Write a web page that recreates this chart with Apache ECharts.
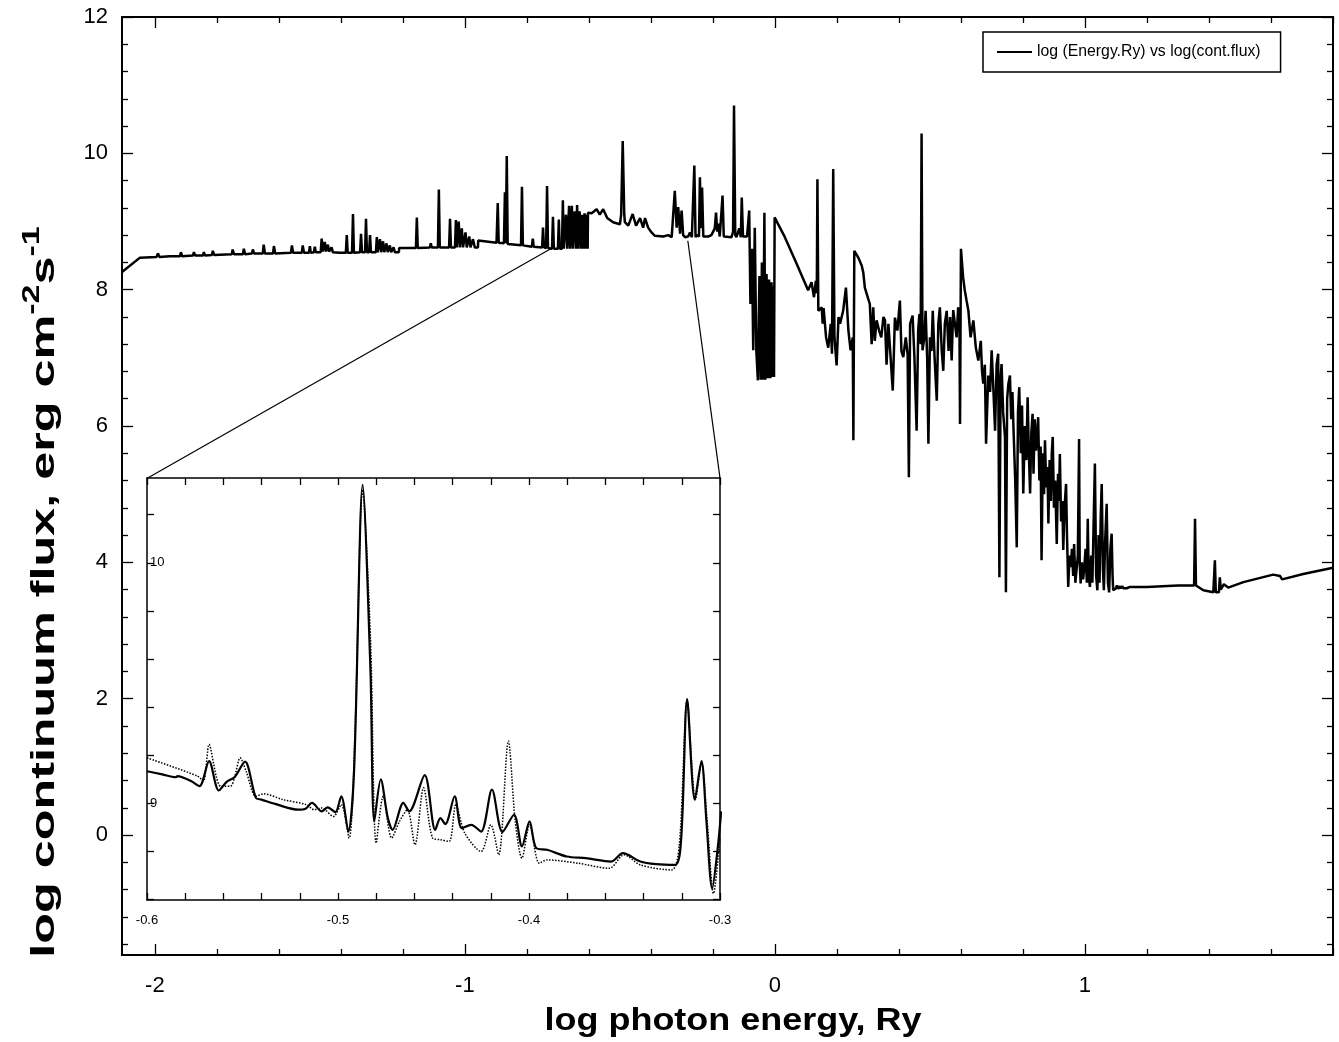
<!DOCTYPE html>
<html>
<head>
<meta charset="UTF-8">
<title>continuum spectrum</title>
<script src="https://cdn.jsdelivr.net/npm/echarts@6/dist/echarts.min.js"></script>
<style>
  html, body { margin: 0; padding: 0; background: #fff; }
  #chart { width: 1339px; height: 1042px; }
</style>
</head>
<body>
<div id="chart"></div>
<script>
// main spectrum, [log E (Ry), log flux]
var lowBand = [
  [-2.106, 8.26], [-2.048, 8.47], [-1.995, 8.48], [-1.990, 8.53], [-1.985, 8.48], [-1.952, 8.49],
  [-1.919, 8.49], [-1.916, 8.55], [-1.912, 8.49], [-1.877, 8.50], [-1.874, 8.55], [-1.870, 8.50],
  [-1.845, 8.50], [-1.842, 8.55], [-1.838, 8.50], [-1.816, 8.51], [-1.813, 8.57], [-1.809, 8.51],
  [-1.752, 8.52], [-1.749, 8.59], [-1.745, 8.52], [-1.716, 8.52], [-1.713, 8.60], [-1.709, 8.52],
  [-1.687, 8.53], [-1.684, 8.59], [-1.680, 8.53], [-1.652, 8.53], [-1.649, 8.66], [-1.645, 8.53],
  [-1.619, 8.53], [-1.616, 8.64], [-1.612, 8.53], [-1.561, 8.54], [-1.558, 8.65], [-1.554, 8.54],
  [-1.526, 8.54], [-1.523, 8.65], [-1.519, 8.54], [-1.503, 8.54], [-1.500, 8.64], [-1.497, 8.54],
  [-1.487, 8.55], [-1.484, 8.63], [-1.481, 8.55], [-1.465, 8.55], [-1.462, 8.75], [-1.458, 8.56],
  [-1.452, 8.70], [-1.448, 8.56], [-1.442, 8.66], [-1.438, 8.56], [-1.430, 8.62], [-1.426, 8.55],
  [-1.403, 8.54]
];
var bandOne = [
  [-1.384, 8.54], [-1.381, 8.80], [-1.378, 8.54], [-1.364, 8.54], [-1.361, 9.11], [-1.358, 8.54],
  [-1.338, 8.55], [-1.335, 8.82], [-1.332, 8.55], [-1.322, 8.55], [-1.319, 9.04], [-1.316, 8.55],
  [-1.309, 8.55], [-1.306, 8.80], [-1.303, 8.55], [-1.287, 8.55], [-1.284, 8.77], [-1.281, 8.55],
  [-1.274, 8.74], [-1.270, 8.55], [-1.264, 8.71], [-1.260, 8.55], [-1.253, 8.68], [-1.249, 8.55],
  [-1.242, 8.65], [-1.238, 8.55], [-1.230, 8.62], [-1.226, 8.55], [-1.213, 8.55], [-1.212, 8.61],
  [-1.158, 8.61], [-1.155, 9.06], [-1.152, 8.61], [-1.113, 8.62], [-1.110, 8.68], [-1.107, 8.62],
  [-1.087, 8.62], [-1.084, 9.47], [-1.081, 8.62], [-1.051, 8.62], [-1.048, 9.04], [-1.045, 8.62],
  [-1.032, 8.62], [-1.029, 9.02], [-1.026, 8.62], [-1.020, 9.00], [-1.016, 8.62], [-1.010, 8.90],
  [-1.006, 8.62], [-0.998, 8.84], [-0.994, 8.62], [-0.986, 8.78], [-0.982, 8.62], [-0.974, 8.74],
  [-0.968, 8.62], [-0.958, 8.62], [-0.957, 8.72]
];
var bandTwo = [
  [-0.898, 8.69], [-0.894, 9.27], [-0.891, 8.69], [-0.874, 8.68], [-0.871, 9.43], [-0.868, 8.68],
  [-0.865, 9.96], [-0.862, 8.67], [-0.819, 8.65], [-0.816, 9.51], [-0.813, 8.65], [-0.784, 8.63],
  [-0.781, 8.75], [-0.778, 8.63], [-0.751, 8.62], [-0.748, 8.91], [-0.745, 8.62], [-0.738, 8.61],
  [-0.735, 9.52], [-0.732, 8.61], [-0.719, 8.60], [-0.716, 9.07], [-0.713, 8.60], [-0.700, 8.60],
  [-0.697, 9.03], [-0.694, 8.60], [-0.687, 8.60], [-0.684, 9.31], [-0.681, 8.60], [-0.674, 9.10],
  [-0.670, 8.60], [-0.664, 9.23], [-0.661, 8.60], [-0.655, 9.23], [-0.652, 8.60], [-0.646, 9.15],
  [-0.642, 8.60], [-0.638, 9.24], [-0.635, 8.60], [-0.630, 9.15], [-0.626, 8.60], [-0.622, 9.10],
  [-0.618, 8.60], [-0.614, 9.12], [-0.610, 8.60], [-0.606, 9.10], [-0.604, 8.60]
];
var bumpBand = [
  [-0.603, 9.13], [-0.591, 9.12], [-0.575, 9.18], [-0.565, 9.10], [-0.554, 9.18], [-0.541, 9.05],
  [-0.522, 8.99], [-0.500, 8.96], [-0.496, 9.10], [-0.491, 10.18], [-0.486, 9.10], [-0.484, 8.99],
  [-0.473, 8.94], [-0.459, 9.11], [-0.448, 8.94], [-0.435, 9.05], [-0.425, 8.91], [-0.419, 9.05],
  [-0.409, 8.91], [-0.398, 8.84], [-0.387, 8.79], [-0.360, 8.78], [-0.344, 8.80], [-0.333, 8.77]
];
var edgeBand = [
  [-0.328, 8.76], [-0.323, 9.45], [-0.317, 8.91], [-0.312, 9.21], [-0.306, 8.82], [-0.301, 9.16],
  [-0.296, 8.80], [-0.290, 8.77], [-0.280, 8.78], [-0.274, 8.84], [-0.268, 8.77], [-0.263, 8.78],
  [-0.260, 9.82], [-0.256, 8.77], [-0.253, 8.80], [-0.245, 8.78], [-0.242, 9.65], [-0.238, 8.90],
  [-0.235, 9.50], [-0.231, 8.78], [-0.215, 8.78], [-0.205, 8.80], [-0.199, 8.80], [-0.194, 8.90],
  [-0.190, 9.13], [-0.186, 8.85], [-0.183, 8.97], [-0.178, 8.78], [-0.172, 8.80], [-0.169, 9.38],
  [-0.165, 8.78], [-0.161, 8.77], [-0.140, 8.77], [-0.135, 8.85], [-0.132, 10.70], [-0.128, 8.80],
  [-0.124, 8.77], [-0.115, 8.90], [-0.110, 8.77], [-0.107, 9.35], [-0.103, 8.78], [-0.100, 8.77],
  [-0.090, 8.78], [-0.086, 8.80], [-0.083, 9.16], [-0.079, 7.79], [-0.074, 8.60], [-0.070, 7.11],
  [-0.065, 8.91], [-0.060, 7.10], [-0.055, 6.67], [-0.050, 8.20], [-0.046, 6.68], [-0.042, 8.40],
  [-0.038, 6.68], [-0.034, 9.13], [-0.031, 6.68], [-0.027, 8.23], [-0.023, 6.70], [-0.019, 8.15],
  [-0.015, 6.70], [-0.011, 8.11], [-0.008, 6.72], [-0.005, 8.05], [-0.003, 6.72], [-0.001, 9.06]
];
var xrayBand = [
  [0.032, 8.77], [0.070, 8.38], [0.107, 7.99], [0.118, 8.11], [0.126, 7.89], [0.132, 8.13],
  [0.135, 7.95], [0.137, 9.62], [0.140, 7.69], [0.151, 7.74], [0.154, 7.50], [0.157, 7.73],
  [0.165, 7.30], [0.172, 7.15], [0.180, 7.50], [0.184, 7.06], [0.188, 9.77], [0.192, 7.30],
  [0.199, 6.89], [0.205, 7.60], [0.210, 7.50], [0.220, 7.69], [0.229, 8.03], [0.237, 7.40],
  [0.244, 7.11], [0.251, 7.30], [0.253, 5.79], [0.256, 8.57], [0.269, 8.47], [0.280, 8.35],
  [0.285, 8.25], [0.290, 8.03], [0.296, 7.94], [0.306, 7.79], [0.312, 7.20], [0.317, 7.74],
  [0.322, 7.25], [0.328, 7.55], [0.336, 7.40], [0.343, 7.30], [0.350, 7.60], [0.355, 7.55],
  [0.360, 6.90], [0.366, 7.50], [0.373, 7.01], [0.380, 6.52], [0.387, 7.59], [0.395, 7.40],
  [0.403, 7.84], [0.408, 7.10], [0.414, 7.01], [0.422, 7.30], [0.428, 7.05], [0.432, 5.25],
  [0.436, 7.50], [0.444, 7.62], [0.450, 7.00], [0.457, 5.93], [0.462, 7.40], [0.466, 7.64],
  [0.470, 7.20], [0.473, 10.29], [0.476, 7.11], [0.482, 7.30], [0.486, 7.69], [0.491, 7.00],
  [0.495, 5.74], [0.500, 7.30], [0.505, 7.10], [0.509, 7.69], [0.515, 7.00], [0.522, 6.37],
  [0.527, 7.50], [0.532, 7.74], [0.538, 7.10], [0.543, 6.81], [0.548, 7.50], [0.554, 7.69],
  [0.560, 7.10], [0.565, 7.60], [0.570, 6.96], [0.575, 7.70], [0.581, 7.69], [0.586, 7.30],
  [0.591, 7.74], [0.595, 7.60], [0.597, 6.03], [0.600, 8.60], [0.607, 8.18], [0.612, 8.00],
  [0.618, 7.84], [0.624, 7.69], [0.631, 7.30], [0.640, 7.55], [0.648, 7.15], [0.656, 6.96],
  [0.664, 7.25], [0.668, 6.80], [0.672, 6.62], [0.677, 6.90], [0.681, 5.74], [0.688, 6.74],
  [0.694, 6.50], [0.699, 7.11], [0.704, 6.60], [0.710, 5.93], [0.715, 6.90], [0.720, 7.06],
  [0.724, 3.78], [0.728, 6.70], [0.731, 6.91], [0.736, 6.20], [0.742, 5.84], [0.745, 3.56],
  [0.749, 6.40], [0.753, 6.62], [0.758, 6.74], [0.762, 6.10], [0.766, 6.50], [0.769, 6.03],
  [0.775, 5.20], [0.780, 4.22], [0.784, 6.20], [0.788, 6.57], [0.793, 5.60], [0.797, 6.30],
  [0.801, 5.01], [0.806, 6.00], [0.811, 5.50], [0.815, 6.42], [0.819, 5.60], [0.823, 5.01],
  [0.827, 5.90], [0.831, 6.18], [0.834, 5.30], [0.838, 6.10], [0.842, 5.64], [0.846, 5.90],
  [0.849, 6.13], [0.853, 5.20], [0.857, 5.70], [0.860, 4.03], [0.864, 5.60], [0.868, 5.00],
  [0.871, 5.79], [0.875, 5.10], [0.879, 5.40], [0.882, 4.57], [0.886, 5.50], [0.890, 4.90],
  [0.893, 5.60], [0.896, 5.84], [0.900, 4.80], [0.904, 5.20], [0.909, 4.27], [0.913, 5.30],
  [0.916, 4.90], [0.919, 5.59], [0.923, 4.60], [0.927, 4.90], [0.930, 4.18], [0.934, 4.80],
  [0.939, 5.15], [0.942, 4.40], [0.946, 3.64], [0.950, 4.10], [0.954, 3.93], [0.958, 4.20],
  [0.962, 3.80], [0.965, 4.27], [0.969, 3.70], [0.973, 3.69], [0.977, 4.10], [0.981, 5.81],
  [0.983, 4.00], [0.986, 3.69], [0.990, 4.00], [0.994, 3.75], [0.997, 3.88], [1.002, 4.20],
  [1.006, 3.70], [1.009, 4.64], [1.012, 3.80], [1.016, 3.64], [1.020, 4.10], [1.024, 3.70],
  [1.028, 4.60], [1.032, 5.45], [1.036, 3.80], [1.040, 3.59], [1.044, 4.40], [1.047, 3.70],
  [1.051, 4.70], [1.054, 5.15], [1.058, 3.90], [1.061, 3.59], [1.065, 4.30], [1.070, 4.86],
  [1.074, 3.70], [1.078, 3.56], [1.082, 4.20], [1.086, 4.42], [1.089, 3.80], [1.091, 3.59]
];
var tailBand = [
  [1.100, 3.62], [1.103, 3.66], [1.107, 3.61], [1.111, 3.65], [1.115, 3.62], [1.120, 3.65],
  [1.124, 3.62], [1.130, 3.64], [1.135, 3.62], [1.145, 3.64], [1.200, 3.64], [1.300, 3.66],
  [1.352, 3.66], [1.355, 4.64], [1.358, 3.66], [1.382, 3.59], [1.414, 3.56], [1.417, 3.56],
  [1.419, 4.03], [1.422, 3.56], [1.432, 3.56], [1.435, 3.78], [1.438, 3.60], [1.441, 3.59],
  [1.448, 3.68], [1.462, 3.63], [1.511, 3.71], [1.607, 3.82], [1.629, 3.80], [1.636, 3.75],
  [1.704, 3.83], [1.800, 3.92]
];

// zoomed inset, -0.6 .. -0.3
var insetSolid = [
  [-0.600, 9.132], [-0.592, 9.119], [-0.585, 9.107], [-0.584, 9.112], [-0.577, 9.091], [-0.5725, 9.070],
  [-0.5675, 9.174], [-0.5624, 9.052], [-0.5583, 9.088], [-0.5542, 9.107], [-0.5487, 9.172], [-0.5430, 9.021],
  [-0.5400, 9.014], [-0.5329, 8.996], [-0.5207, 8.972], [-0.5170, 8.976], [-0.5136, 9.000], [-0.5085, 8.965],
  [-0.5054, 8.982], [-0.5014, 8.962], [-0.4983, 9.028], [-0.4946, 8.881], [-0.4916, 9.132], [-0.4871, 10.325],
  [-0.4830, 9.551], [-0.4810, 8.923], [-0.4776, 9.098], [-0.4739, 8.937], [-0.4714, 8.888], [-0.4658, 9.000],
  [-0.4627, 8.965], [-0.4546, 9.116], [-0.4491, 8.888], [-0.4464, 8.937], [-0.4438, 8.912], [-0.4389, 9.028],
  [-0.4352, 8.895], [-0.4302, 8.909], [-0.4251, 8.881], [-0.4194, 9.056], [-0.4139, 8.879], [-0.4078, 8.951],
  [-0.4037, 8.819], [-0.3997, 8.923], [-0.3962, 8.812], [-0.3905, 8.805], [-0.3803, 8.777], [-0.3702, 8.770],
  [-0.3570, 8.756], [-0.3508, 8.791], [-0.3417, 8.756], [-0.3335, 8.745], [-0.3234, 8.742], [-0.3203, 8.854],
  [-0.3172, 9.432], [-0.3132, 9.014], [-0.3097, 9.174], [-0.3071, 8.923], [-0.3041, 8.644], [-0.3010, 8.826],
  [-0.2994, 8.965]
];
var insetDotted = [
  [-0.600, 9.188], [-0.5736, 9.112], [-0.5705, 9.091], [-0.5675, 9.244], [-0.5638, 9.112], [-0.5614, 9.070],
  [-0.5563, 9.070], [-0.5542, 9.105], [-0.5512, 9.188], [-0.5481, 9.132], [-0.5430, 9.028], [-0.5390, 9.038],
  [-0.5288, 9.014], [-0.5166, 8.993], [-0.5125, 8.972], [-0.5085, 8.979], [-0.5024, 8.944], [-0.4983, 8.993],
  [-0.4942, 8.854], [-0.4912, 9.272], [-0.4871, 10.304], [-0.4830, 9.690], [-0.4800, 8.833], [-0.4763, 9.028],
  [-0.4719, 8.854], [-0.4678, 8.923], [-0.4637, 8.972], [-0.4597, 8.826], [-0.4552, 9.063], [-0.4505, 8.854],
  [-0.4464, 8.847], [-0.4418, 8.840], [-0.4383, 8.993], [-0.4336, 8.874], [-0.4251, 8.798], [-0.4200, 8.909],
  [-0.4159, 8.784], [-0.4108, 9.258], [-0.4072, 8.923], [-0.4037, 8.770], [-0.3997, 8.909], [-0.3946, 8.749],
  [-0.3905, 8.763], [-0.3742, 8.749], [-0.3580, 8.728], [-0.3502, 8.784], [-0.3417, 8.742], [-0.3254, 8.721],
  [-0.3213, 8.826], [-0.3172, 9.425], [-0.3128, 9.014], [-0.3097, 9.167], [-0.3067, 8.923], [-0.3034, 8.623],
  [-0.3000, 8.854]
];

// the two lines tying the inset to the spectrum (main axes)
var linkLeft = [[-0.723, 8.60], [-2.026, 5.231]];
var linkRight = [[-0.281, 8.718], [-0.177, 5.231]];

// axis ranges and labels
var mainXRange = [-2.106, 1.8];
var mainYRange = [-1.76, 12];
var mainXLabels = [-2, -1, 0, 1];
var mainYLabels = [0, 2, 4, 6, 8, 10, 12];
var insetXRange = [-0.6, -0.3];
var insetYRange = [8.596, 10.353];
var insetXLabels = [-0.6, -0.5, -0.4, -0.3];
var insetYLabels = [9, 10];

var seriesName = 'log (Energy.Ry) vs log(cont.flux)';
var fontFam = '"Liberation Sans", Arial, Helvetica, sans-serif';

function steps(a, b, d) {
  var out = [];
  for (var v = a; v <= b + 1e-9; v += d) out.push(Math.round(v * 1000) / 1000);
  return out;
}
function without(list, skip) {
  return list.filter(function (v) { return skip.indexOf(v) < 0; });
}

var mainXMinor = without(steps(-2, 1.8, 0.2), mainXLabels);
var mainYMinor = without(steps(-1.6, 11.6, 0.4), mainYLabels);
var insetXTicks = steps(-0.6, -0.3, 0.02);
var insetYTicks = steps(8.6, 10.2, 0.2);

function tickAxis(grid, pos, range, ticks, len, lineW, labels, labelOpt) {
  return {
    type: 'value', gridIndex: grid, position: pos, min: range[0], max: range[1],
    z: grid === 1 ? 10 : 0,
    splitLine: { show: false },
    axisLine: { show: true, onZero: false, lineStyle: { color: '#000', width: lineW } },
    axisTick: { show: true, inside: true, length: len, customValues: ticks,
                lineStyle: { color: '#000', width: 1.3 } },
    axisLabel: labels ? Object.assign({ show: true, customValues: labels, color: '#000',
                fontFamily: fontFam }, labelOpt) : { show: false }
  };
}

var mainData = [].concat(lowBand, bandOne, bandTwo, bumpBand, edgeBand, xrayBand, tailBand);

var chart = echarts.init(document.getElementById('chart'));
var option = {
  backgroundColor: '#fff',
  animation: false,
  grid: [
    { left: 122, right: 6, top: 17, bottom: 87 },
    { left: 147, right: 619, top: 478, bottom: 142, show: true, backgroundColor: '#fff', borderWidth: 0, z: 1 }
  ],
  legend: {
    data: [{ name: seriesName, icon: 'rect' }],
    left: 983, top: 32,
    itemWidth: 35, itemHeight: 2,
    padding: [12, 20, 12, 14],
    borderColor: '#000', borderWidth: 1.5,
    backgroundColor: '#fff',
    textStyle: { fontFamily: fontFam, fontSize: 15.8, color: '#000' }
  },
  xAxis: [
    tickAxis(0, 'bottom', mainXRange, mainXLabels, 11, 2, mainXLabels, { fontSize: 22, margin: 20 }),
    tickAxis(0, 'bottom', mainXRange, mainXMinor, 6, 2),
    tickAxis(0, 'top', mainXRange, mainXLabels, 11, 2),
    tickAxis(0, 'top', mainXRange, mainXMinor, 6, 2),
    tickAxis(1, 'bottom', insetXRange, insetXTicks, 7, 1.5, insetXLabels, { fontSize: 13, margin: 14 }),
    tickAxis(1, 'top', insetXRange, insetXTicks, 7, 1.5)
  ],
  yAxis: [
    tickAxis(0, 'left', mainYRange, mainYLabels, 11, 2, mainYLabels, { fontSize: 22, margin: 14 }),
    tickAxis(0, 'left', mainYRange, mainYMinor, 6, 2),
    tickAxis(0, 'right', mainYRange, mainYLabels, 11, 2),
    tickAxis(0, 'right', mainYRange, mainYMinor, 6, 2),
    tickAxis(1, 'left', insetYRange, insetYTicks, 7, 1.5, insetYLabels, { fontSize: 13, inside: true, margin: 3 }),
    tickAxis(1, 'right', insetYRange, insetYTicks, 7, 1.5)
  ],
  graphic: [
    {
      type: 'text', x: 45, y: 592, rotation: Math.PI / 2, scaleX: 1.48,
      style: {
        text: '{m|log continuum flux, erg cm}{s|-2}{m|s}{s|-1}',
        align: 'center', verticalAlign: 'middle', fill: '#000',
        rich: {
          m: { fontFamily: fontFam, fontSize: 34, fontWeight: 'bold', fill: '#000' },
          s: { fontFamily: fontFam, fontSize: 23, fontWeight: 'bold', fill: '#000', padding: [0, 0, 24, 0] }
        }
      }
    },
    {
      type: 'text', x: 733, y: 1021, scaleX: 1.16,
      style: {
        text: 'log photon energy, Ry', align: 'center', verticalAlign: 'middle', fill: '#000',
        fontFamily: fontFam, fontSize: 31, fontWeight: 'bold'
      }
    }
  ],
  series: [
    {
      name: seriesName, type: 'line', xAxisIndex: 0, yAxisIndex: 0,
      data: mainData, showSymbol: false, symbol: 'none',
      lineStyle: { color: '#000', width: 2.5 }, itemStyle: { color: '#000' }
    },
    {
      name: 'linkL', type: 'line', xAxisIndex: 0, yAxisIndex: 0, data: linkLeft,
      symbol: 'none', lineStyle: { color: '#000', width: 1.2 }
    },
    {
      name: 'linkR', type: 'line', xAxisIndex: 0, yAxisIndex: 0, data: linkRight,
      symbol: 'none', lineStyle: { color: '#000', width: 1.2 }
    },
    {
      name: 'insetDotted', type: 'line', xAxisIndex: 4, yAxisIndex: 4, data: insetDotted,
      symbol: 'none', smooth: 0.3, z: 5,
      lineStyle: { color: '#000', width: 1.5, type: 'dotted' }
    },
    {
      name: 'insetSolid', type: 'line', xAxisIndex: 4, yAxisIndex: 4, data: insetSolid,
      symbol: 'none', smooth: 0.3, z: 6,
      lineStyle: { color: '#000', width: 2.2 }
    }
  ]
};
chart.setOption(option);
</script>
</body>
</html>
